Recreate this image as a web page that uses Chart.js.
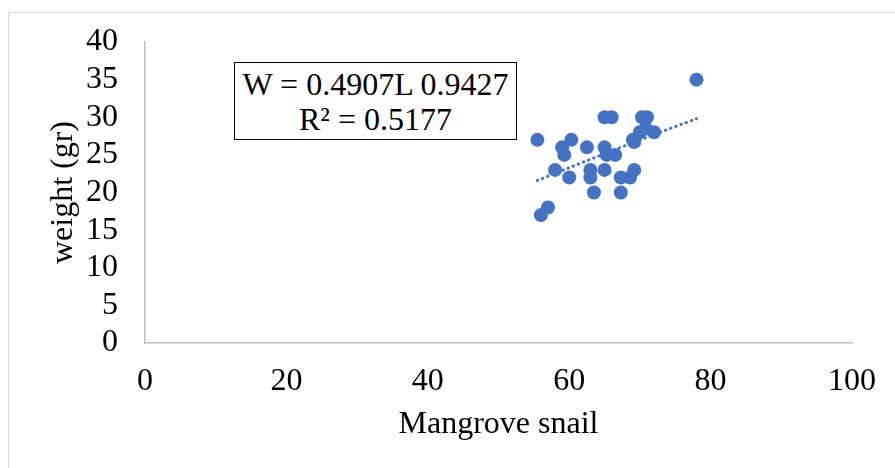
<!DOCTYPE html>
<html>
<head>
<meta charset="utf-8">
<script src="https://cdn.jsdelivr.net/npm/chart.js@4.4.0/dist/chart.umd.min.js"></script>
<style>
    body { margin: 0; background: #fff; }
    #wrap { position: relative; width: 895px; height: 468px; overflow: hidden; }
    #frame { position: absolute; left: 8px; top: 12px; width: 900px; height: 470px; border: 1px solid #d9d9d9; }
    #chart { position: absolute; left: 0; top: 0; }
    #eq {
        position: absolute; left: 234px; top: 62px; width: 283px; height: 78px;
        border: 1.5px solid #000; background: #fff;
        font-family: "Liberation Serif", serif; font-size: 32px; line-height: 35px;
        text-align: center; padding-top: 4px; box-sizing: border-box; color: #000;
        white-space: nowrap;
    }
</style>
</head>
<body>
<div id="wrap">
    <div id="frame"></div>
    <canvas id="chart" width="895" height="468"></canvas>
    <div id="eq">W = 0.4907L 0.9427<br>R² = 0.5177</div>
</div>
<script>
// snail length vs weight
const snailLength = [78, 65, 66, 70.3, 71, 55.5, 59, 60.3, 59.3, 62.5, 65, 66.5, 65.3, 69, 70, 70.8, 72, 69.2,
    58, 60, 63, 63, 65, 67.3, 69.2, 68.6, 63.5, 67.3, 57, 56];
const snailWeight = [35, 30, 30, 30, 30, 27, 26, 27, 25, 26, 26, 25, 25, 27, 28, 28.5, 28, 26.7,
    23, 22, 23, 22, 23, 22, 23, 22, 20, 20, 18, 17];

// power trendline
const trendX = [55.5, 60, 66.5, 72, 78];
const trendY = [21.6, 23.3, 25.7, 27.7, 29.8];

const blue = '#4472C4';
const serif = '"Liberation Serif", "Times New Roman", serif';

const points = snailLength.map((x, i) => ({ x: x, y: snailWeight[i] }));
const trend = trendX.map((x, i) => ({ x: x, y: trendY[i] }));

const ctx = document.getElementById('chart').getContext('2d');
new Chart(ctx, {
    type: 'scatter',
    data: {
        datasets: [{
            data: points,
            backgroundColor: blue,
            borderColor: blue,
            pointRadius: 7,
            pointBorderWidth: 0
        }, {
            type: 'line',
            data: trend,
            borderColor: blue,
            borderWidth: 3,
            borderDash: [0.5, 5],
            borderCapStyle: 'round',
            pointRadius: 0,
            fill: false,
            tension: 0.3
        }]
    },
    options: {
        responsive: false,
        animation: false,
        events: [],
        layout: { padding: { left: 0, top: 42, right: 39, bottom: 0 } },
        plugins: { legend: { display: false }, tooltip: { enabled: false } },
        scales: {
            x: {
                type: 'linear', min: 0, max: 100,
                afterFit: s => { s.height = 125; },
                grid: { display: false, drawTicks: false },
                border: { color: '#c0c0c0', width: 1.5 },
                ticks: { stepSize: 20, autoSkip: false, maxRotation: 0, color: '#000', padding: 19, font: { family: serif, size: 32 } },
                title: { display: true, text: 'Mangrove snail', color: '#000', padding: { top: 0, bottom: 24 }, font: { family: serif, size: 32 } }
            },
            y: {
                type: 'linear', min: 0, max: 40,
                afterFit: s => { s.width = 145; },
                grid: { display: false, drawTicks: false },
                border: { color: '#c0c0c0', width: 1.5 },
                ticks: { stepSize: 5, autoSkip: false, color: '#000', padding: 27, font: { family: serif, size: 32, lineHeight: 0.8 } },
                title: { display: true, text: 'weight (gr)', color: '#000', padding: { top: 44, bottom: 0 }, font: { family: serif, size: 32 } }
            }
        }
    }
});
</script>
</body>
</html>
